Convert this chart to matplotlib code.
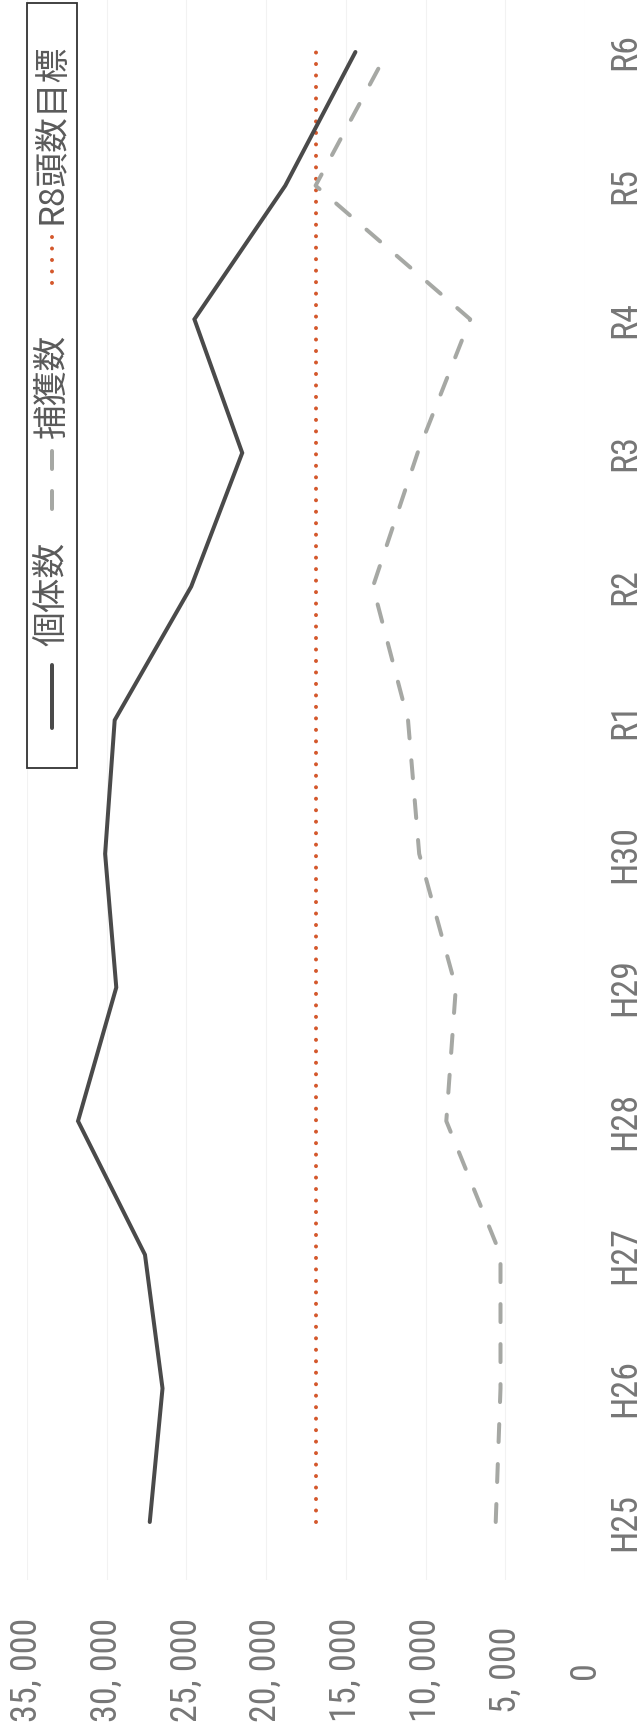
import matplotlib
matplotlib.use('Agg')
import matplotlib.pyplot as plt
from matplotlib import font_manager as fm
from matplotlib.font_manager import FontProperties
from matplotlib.patches import Rectangle
from matplotlib.lines import Line2D

plt.rcParams['font.family'] = ['Noto Sans CJK JP', 'DejaVu Sans']

# ---------------- data ----------------
categories = ['H25', 'H26', 'H27', 'H28', 'H29', 'H30', 'R1', 'R2', 'R3', 'R4', 'R5', 'R6']
individuals = [27300, 26500, 27600, 31800, 29400, 30100, 29500, 24700, 21500, 24500, 18800, 14400]
captures = [5600, 5300, 5300, 8700, 8100, 10400, 11100, 13300, 10500, 7200, 16900, 12400]
target = [16900, 16900, 16900, 16900, 16900, 16900, 16900, 16900, 16900, 16900, 16900, 16900]
value_ticks = [0, 5000, 10000, 15000, 20000, 25000, 30000, 35000]
value_tick_labels = ['0', '5, 000', '10, 000', '15, 000', '20, 000', '25, 000', '30, 000', '35, 000']
legend_labels = ['個体数', '捕獲数', 'R8頭数目標']


# ---------------- condensed font for the numerals (if available) ----------------
def _is_condensed(f):
    st = f.stretch
    nm = f.name.lower()
    if 'narrow' in nm or 'condensed' in nm:
        return True
    if isinstance(st, (int, float)):
        return st < 100
    return 'condensed' in str(st).lower()


def _weight_ok(f):
    w = f.weight
    if isinstance(w, (int, float)):
        return 300 <= w <= 400
    return str(w).lower() in ('normal', 'regular', 'book', 'light', '400', '300')


cands = [f for f in fm.fontManager.ttflist
         if _is_condensed(f) and f.style == 'normal' and _weight_ok(f)
         and 'mono' not in f.name.lower() and 'serif' not in f.name.lower()]
pref = ['Liberation Sans Narrow', 'Roboto Condensed', 'Noto Sans', 'Open Sans', 'DejaVu Sans']
cands.sort(key=lambda f: (pref.index(f.name) if f.name in pref else 99,
                          0 if str(f.stretch).lower() in ('condensed', '75') else 1))
if cands:
    num_prop = FontProperties(fname=cands[0].fname, size=26)
else:
    num_prop = FontProperties(family=['Noto Sans CJK JP', 'DejaVu Sans'], size=21)

# ---------------- layout (pixels) ----------------
W, H = 640, 1727
PT = 0.72  # points per pixel at 100 dpi
fig = plt.figure(figsize=(W / 100, H / 100), dpi=100)
fig.patch.set_facecolor('white')

left_px, right_px = 27, 585        # 35,000 ... 0
top_px, bottom_px = 0, 1580
first_cat_px, last_cat_px = 1522, 52

ax = fig.add_axes([left_px / W, 1 - bottom_px / H,
                   (right_px - left_px) / W, (bottom_px - top_px) / H])
n = len(categories)
idx = list(range(n))
per = (first_cat_px - last_cat_px) / (n - 1)
ax.set_xlim(35000, 0)
ax.set_ylim(-(bottom_px - first_cat_px) / per, (n - 1) + (last_cat_px - top_px) / per)

col_solid = '#4a4a4a'
col_dash = '#a6a8a4'
col_red = '#d4582c'
col_text = '#767676'

ax.plot(individuals, idx, color=col_solid, lw=4 * PT, solid_joinstyle='miter',
        solid_capstyle='round', zorder=4)
ax.plot(captures, idx, color=col_dash, lw=4 * PT, linestyle=(0, (4.5, 5.5)),
        dash_capstyle='round', zorder=3)
ax.plot(target, idx, color=col_red, lw=4 * PT, linestyle=(0, (0.01, 2.86)),
        dash_capstyle='round', zorder=2)

for s in ax.spines.values():
    s.set_visible(False)
ax.xaxis.grid(True, color='#f2f2f2', lw=0.8)
ax.set_axisbelow(True)

ax.set_xticks(value_ticks)
ax.set_xticklabels(value_tick_labels, rotation=90, va='center', ha='center',
                   color=col_text, fontproperties=num_prop)
ax.tick_params(axis='x', length=0, pad=(1670 - bottom_px) * PT)

ax.yaxis.tick_right()
ax.set_yticks(idx)
ax.set_yticklabels(categories, rotation=90, va='center', ha='center',
                   color=col_text, fontproperties=num_prop)
ax.tick_params(axis='y', length=0, pad=(625 - right_px) * PT)

# ---------------- legend (rotated, drawn manually) ----------------
lg = fig.add_axes([0, 0, 1, 1], facecolor='none')
lg.set_xlim(0, W)
lg.set_ylim(H, 0)
lg.axis('off')
lg.add_patch(Rectangle((27, 3), 50, 765, fill=False, ec='#333333', lw=1.3))
cx = 52
leg_col = '#5a5a5a'
lg.add_line(Line2D([cx, cx], [665, 728], color=col_solid, lw=4 * PT, solid_capstyle='round'))
lg.text(cx, 594, legend_labels[0], rotation=90, ha='center', va='center',
        fontsize=25, color=leg_col)
lg.add_line(Line2D([cx, cx], [451, 522], color=col_dash, lw=4 * PT,
                   linestyle=(0, (4.5, 5.5)), dash_capstyle='round'))
lg.text(cx, 386, legend_labels[1], rotation=90, ha='center', va='center',
        fontsize=25, color=leg_col)
lg.add_line(Line2D([cx, cx], [237, 290], color=col_red, lw=4 * PT,
                   linestyle=(0, (0.01, 2.86)), dash_capstyle='round'))
lg.text(cx, 134, legend_labels[2], rotation=90, ha='center', va='center',
        fontsize=25, color=leg_col)

fig.savefig('out.png', dpi=100, facecolor='white')
